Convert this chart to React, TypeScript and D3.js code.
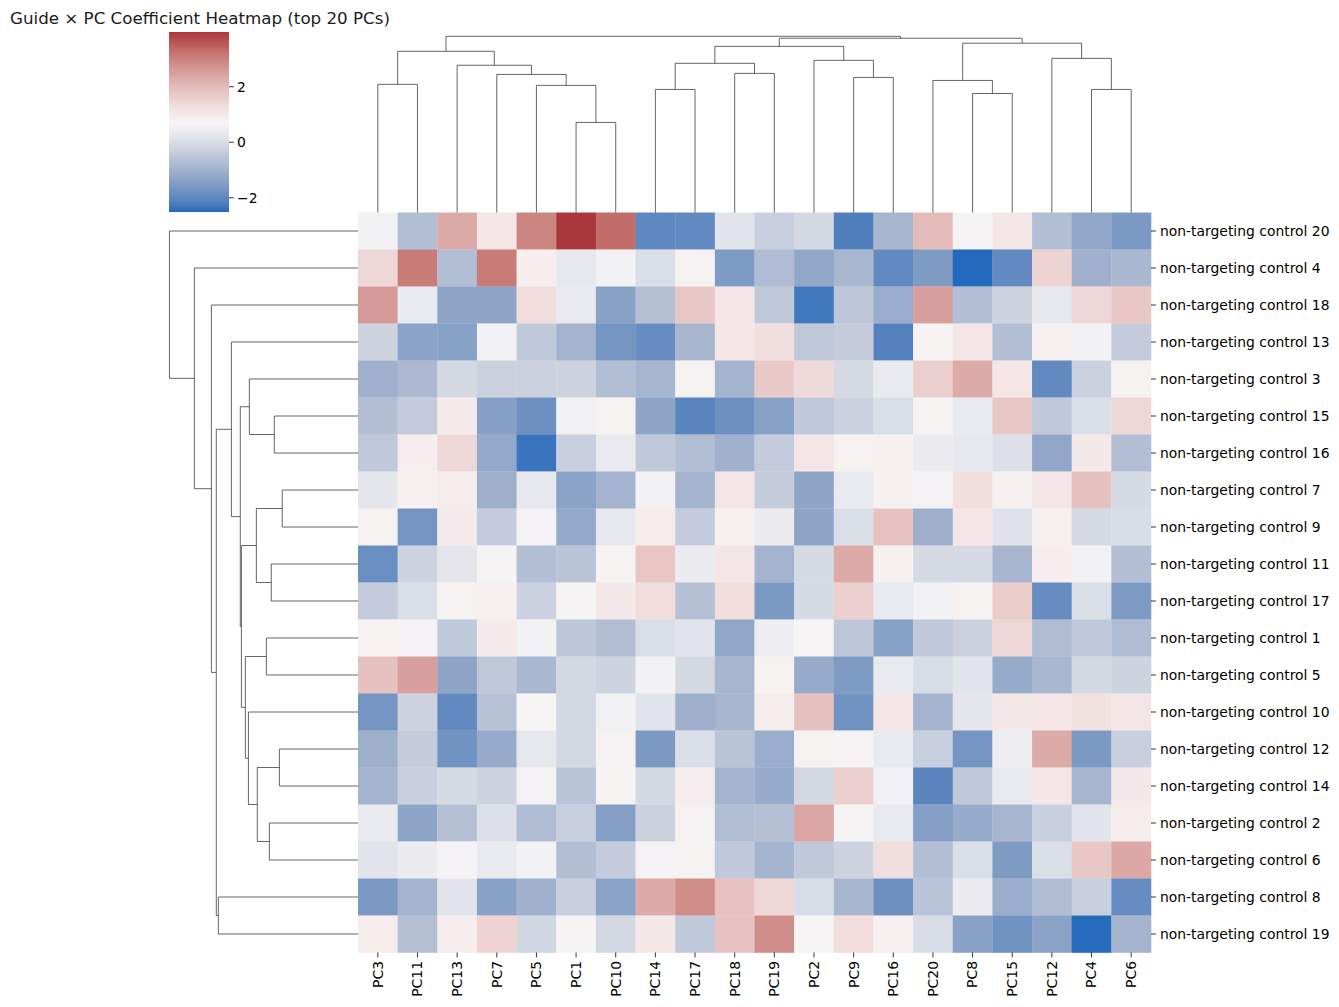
import React from "react";
import * as d3 from "d3";

// column order as shown after clustering
const pcLabels = ["PC3", "PC11", "PC13", "PC7", "PC5", "PC1", "PC10", "PC14", "PC17", "PC18",
  "PC19", "PC2", "PC9", "PC16", "PC20", "PC8", "PC15", "PC12", "PC4", "PC6"];

// row order as shown after clustering
const guideIds = [20, 4, 18, 13, 3, 15, 16, 7, 9, 11, 17, 1, 5, 10, 12, 14, 2, 6, 8, 19];
const guideLabels = guideIds.map((n) => `non-targeting control ${n}`);

// one array per guide, values in pcLabels order
const coefs: number[][] = [
  [0.55, -0.7, 2.3, 1.1, 2.95, 3.97, 3.3, -2.0, -1.95, 0.2, -0.3, -0.1, -2.2, -0.9, 2.0, 0.65, 1.1, -0.7, -1.25, -1.6],
  [1.4, 3.1, -0.7, 3.1, 0.9, 0.3, 0.55, 0.05, 0.8, -1.55, -0.75, -1.25, -0.85, -1.95, -1.55, -2.51, -1.95, 1.5, -1.0, -0.85],
  [2.6, 0.35, -1.3, -1.3, 1.3, 0.35, -1.4, -0.65, 1.75, 1.1, -0.45, -2.3, -0.5, -1.1, 2.5, -0.7, -0.2, 0.3, 1.45, 1.75],
  [-0.2, -1.35, -1.4, 0.55, -0.45, -0.95, -1.7, -1.9, -0.9, 1.1, 1.25, -0.45, -0.35, -2.15, 0.8, 1.1, -0.7, 0.85, 0.55, -0.4],
  [-1.0, -0.8, -0.1, -0.25, -0.25, -0.2, -0.7, -0.9, 0.8, -0.95, 1.7, 1.35, -0.05, 0.35, 1.6, 2.3, 1.1, -1.95, -0.25, 0.8],
  [-0.7, -0.4, 1.0, -1.45, -1.8, 0.5, 0.8, -1.3, -2.05, -1.8, -1.4, -0.45, -0.25, 0.05, 0.8, 0.35, 1.75, -0.45, 0.05, 1.4],
  [-0.45, 0.9, 1.4, -1.2, -2.35, -0.3, 0.35, -0.45, -0.7, -1.0, -0.4, 1.1, 0.8, 0.85, 0.4, 0.3, 0.1, -1.25, 1.05, -0.7],
  [0.25, 0.85, 0.95, -1.05, 0.3, -1.35, -0.95, 0.55, -0.95, 1.1, -0.35, -1.3, 0.35, 0.85, 0.6, 1.25, 0.85, 1.1, 1.9, -0.05],
  [0.8, -1.7, 1.0, -0.4, 0.6, -1.2, 0.3, 0.95, -0.4, 0.85, 0.4, -1.3, 0.05, 1.85, -1.05, 1.1, 0.15, 0.85, -0.05, 0.0],
  [-1.85, -0.2, 0.25, 0.65, -0.7, -0.55, 0.8, 1.8, 0.4, 1.1, -0.95, -0.05, 2.3, 0.85, -0.05, -0.05, -0.9, 0.9, 0.55, -0.7],
  [-0.4, 0.05, 0.8, 0.85, -0.25, 0.65, 1.05, 1.3, -0.65, 1.3, -1.6, -0.05, 1.6, 0.35, 0.55, 0.8, 1.65, -1.9, 0.05, -1.55],
  [0.8, 0.6, -0.45, 1.0, 0.55, -0.5, -0.7, 0.05, 0.2, -1.25, 0.45, 0.7, -0.5, -1.4, -0.45, -0.25, 1.45, -0.75, -0.45, -0.75],
  [1.9, 2.5, -1.3, -0.45, -0.85, -0.1, -0.2, 0.55, -0.1, -0.9, 0.8, -1.15, -1.55, 0.35, 0.0, 0.2, -1.15, -0.85, -0.1, -0.2],
  [-1.7, -0.2, -1.95, -0.6, 0.7, -0.1, 0.5, 0.2, -1.05, -0.9, 0.95, 1.9, -1.75, 1.1, -0.95, 0.25, 1.05, 1.1, 1.2, 1.1],
  [-1.05, -0.35, -1.75, -1.15, 0.3, -0.1, 0.8, -1.6, 0.05, -0.55, -1.1, 0.8, 0.65, 0.35, -0.3, -1.7, 0.45, 2.3, -1.6, -0.3],
  [-0.95, -0.3, -0.05, -0.2, 0.6, -0.55, 0.8, -0.1, 0.9, -0.95, -1.15, -0.1, 1.6, 0.5, -2.05, -0.45, 0.35, 1.1, -0.9, 1.05],
  [0.35, -1.3, -0.65, 0.1, -0.75, -0.3, -1.45, -0.25, 0.8, -0.7, -0.65, 2.4, 0.65, 0.35, -1.45, -1.15, -0.9, -0.3, 0.2, 0.95],
  [0.2, 0.4, 0.6, 0.35, 0.55, -0.7, -0.4, 0.6, 0.8, -0.45, -0.95, -0.45, -0.2, 1.25, -0.7, 0.05, -1.55, 0.05, 1.75, 2.35],
  [-1.6, -0.95, 0.2, -1.4, -1.0, -0.3, -1.35, 2.3, 2.8, 1.85, 1.4, 0.0, -0.9, -1.8, -0.55, 0.4, -1.1, -0.75, -0.3, -1.9],
  [0.95, -0.65, 0.9, 1.5, -0.15, 0.65, -0.1, 1.05, -0.45, 1.85, 2.8, 0.7, 1.3, 0.85, 0.0, -1.4, -1.75, -1.35, -2.48, -0.95],
];

// linkage trees: [merge height, left, right], leaves are display indices
type Tree = number | [number, Tree, Tree];

const colTree: Tree = [9.98,
  [9.13, [7.26, 0, 1], [8.34, 2, [7.82, 3, [7.2, 4, [5.1, 5, 6]]]]],
  [9.87,
    [9.41, [8.45, [6.97, 7, 8], [7.88, 9, 10]], [8.62, 11, [7.65, 12, 13]]],
    [9.59, [7.48, 14, [6.74, 15, 16]], [8.73, 17, [6.97, 18, 19]]]]];

const rowTree: Tree = [9.98, 0,
  [8.66, 1,
    [7.76, 2,
      [7.5,
        [6.7, 3,
          [6.23,
            [5.75, 4, [4.43, 5, 6]],
            [6.17,
              [5.38, [4.01, 7, 8], [4.59, 9, 10]],
              [5.96, [4.85, 11, 12], [5.8, 13, [5.33, [4.16, 14, 15], [4.69, 16, 17]]]]]]],
        [7.39, 18, 19]]]]];

const cmapStops: [number, string][] = [
  [0, "#2369bd"], [0.048, "#507fbe"], [0.14, "#7b99c3"], [0.248, "#a7b5cf"],
  [0.372, "#d3d8e3"], [0.465, "#f1f0f3"], [0.5, "#f7f5f5"], [0.557, "#f4e6e6"],
  [0.681, "#e5c1bf"], [0.789, "#d59a97"], [0.882, "#c67571"], [1, "#a9373b"],
];

const W = 1339, H = 1007;
const font = "DejaVu Sans, Liberation Sans, sans-serif";

function walk(t: Tree, leafPos: (i: number) => number, segs: [number, number][][]): { p: number; h: number } {
  if (typeof t === "number") return { p: leafPos(t), h: 0 };
  const a = walk(t[1], leafPos, segs);
  const b = walk(t[2], leafPos, segs);
  segs.push([[a.p, a.h], [a.p, t[0]], [b.p, t[0]], [b.p, b.h]]);
  return { p: (a.p + b.p) / 2, h: t[0] };
}

export default function App() {
  const x = d3.scaleBand<string>().domain(pcLabels).range([358, 1151]);
  const y = d3.scaleBand<string>().domain(guideLabels).range([212.5, 952.5]);

  const flat = coefs.flat();
  const [vmin, vmax] = d3.extent(flat) as [number, number];
  const t = d3.scaleLinear().domain(cmapStops.map((s) => s[0])).range(cmapStops.map((s) => s[1]) as any).interpolate(d3.interpolateRgb as any);
  const norm = d3.scaleLinear().domain([vmin, vmax]).range([0, 1]);
  const color = (v: number) => t(norm(v)) as unknown as string;

  const hMax = 9.98 * 1.05;
  const colH = d3.scaleLinear().domain([0, hMax]).range([212.5, 27.5]);
  const rowH = d3.scaleLinear().domain([0, hMax]).range([358, 160]);

  const colSegs: [number, number][][] = [];
  walk(colTree, (i) => x(pcLabels[i])! + x.bandwidth() / 2, colSegs);
  const rowSegs: [number, number][][] = [];
  walk(rowTree, (i) => y(guideLabels[i])! + y.bandwidth() / 2, rowSegs);

  const colLine = d3.line<[number, number]>().x((d) => d[0]).y((d) => colH(d[1]));
  const rowLine = d3.line<[number, number]>().x((d) => rowH(d[1])).y((d) => d[0]);

  const cb = d3.scaleLinear().domain([vmin, vmax]).range([212, 32]);
  const cbTicks = [-2, 0, 2];
  const gradStops = d3.range(0, 1.0001, 0.02);

  return (
    <svg width={W} height={H} style={{ position: "absolute", left: 0, top: 0, background: "#fff" }} fontFamily={font}>
      <defs>
        <linearGradient id="cbar" x1="0" y1="1" x2="0" y2="0">
          {gradStops.map((s) => (
            <stop key={s} offset={s} stopColor={t(s) as unknown as string} />
          ))}
        </linearGradient>
      </defs>
      <rect width={W} height={H} fill="#fff" />
      <text x={10} y={24} fontSize={16.7} fill="#1a1a1a">Guide × PC Coefficient Heatmap (top 20 PCs)</text>

      {/* colorbar */}
      <rect x={169} y={cb(vmax)} width={60} height={cb(vmin) - cb(vmax)} fill="url(#cbar)" />
      {cbTicks.map((v) => (
        <g key={v} transform={`translate(229,${cb(v)})`}>
          <line x1={0} x2={4.9} stroke="#000" strokeWidth={0.8} />
          <text x={8} dy="0.35em" fontSize={13.9} fill="#000">{v < 0 ? `\u2212${Math.abs(v)}` : v}</text>
        </g>
      ))}

      {/* heatmap */}
      {coefs.map((row, r) =>
        row.map((v, c) => (
          <rect key={`${r}-${c}`} x={x(pcLabels[c])} y={y(guideLabels[r])} width={x.bandwidth() + 0.3} height={y.bandwidth() + 0.3} fill={color(v)} />
        ))
      )}

      {/* dendrograms */}
      <g fill="none" stroke="#333" strokeWidth={0.75}>
        {colSegs.map((s, i) => <path key={`c${i}`} d={colLine(s)!} />)}
        {rowSegs.map((s, i) => <path key={`r${i}`} d={rowLine(s)!} />)}
      </g>

      {/* column labels */}
      {pcLabels.map((p) => {
        const cx = x(p)! + x.bandwidth() / 2;
        return (
          <g key={p}>
            <line x1={cx} x2={cx} y1={952.5} y2={957.4} stroke="#000" strokeWidth={0.8} />
            <text transform={`translate(${cx},961) rotate(-90)`} textAnchor="end" dy="0.35em" fontSize={13.9} fill="#000">{p}</text>
          </g>
        );
      })}

      {/* row labels */}
      {guideLabels.map((g) => {
        const cy = y(g)! + y.bandwidth() / 2;
        return (
          <g key={g}>
            <line x1={1151} x2={1155.9} y1={cy} y2={cy} stroke="#000" strokeWidth={0.8} />
            <text x={1160} y={cy} dy="0.35em" fontSize={13.9} fill="#000">{g}</text>
          </g>
        );
      })}
    </svg>
  );
}
